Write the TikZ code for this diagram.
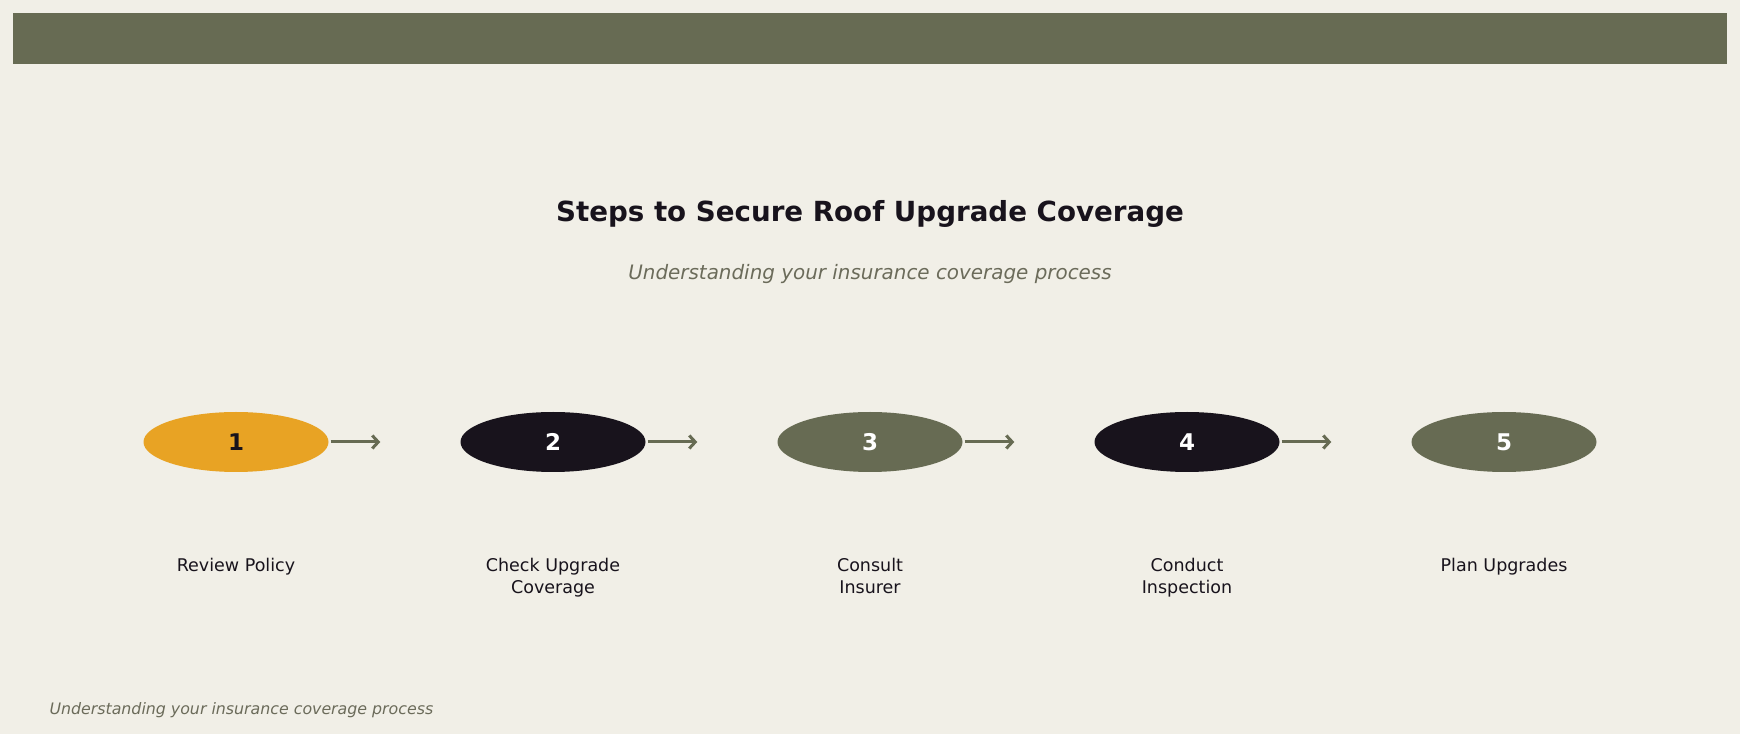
\documentclass[tikz,border=0pt]{standalone}
\usepackage{fontspec}
\setmainfont{DejaVu Sans}
\usetikzlibrary{shapes.geometric,arrows.meta}

\definecolor{paper}{HTML}{F1EFE7}
\definecolor{olive}{HTML}{676B53}
\definecolor{amber}{HTML}{E8A324}
\definecolor{ink}{HTML}{18131C}
\definecolor{mute}{HTML}{6B6B5A}

\tikzset{
  stepdot/.style={ellipse, minimum width=185pt, minimum height=60pt, inner sep=0pt,
    font=\fontsize{23}{25}\selectfont\bfseries, text=white},
  steplabel/.style={align=center, inner sep=0pt, text=ink,
    font=\fontsize{17.5}{22.5}\selectfont},
  flow/.style={->, olive, line width=3pt, shorten <=2pt, shorten >=80pt}
}

\begin{document}
\begin{tikzpicture}[x=1pt, y=1pt, >={Straight Barb[length=6pt,width=13pt]}, node distance=317pt]
    \useasboundingbox[fill=paper] (0,0) rectangle (1740,734);
    \fill[olive] (13,670) rectangle (1727,721);

    \node[text=ink, font=\fontsize{27.7}{32}\selectfont\bfseries] (title) at (870,520) {Steps to Secure Roof Upgrade Coverage};
    \node[text=mute, font=\fontsize{19.9}{24}\selectfont\itshape] (sub) at (870,460) {Understanding your insurance coverage process};

    \node[stepdot, fill=amber, text=ink] (s1) at (236,292) {1};
    \node[stepdot, fill=ink, right of=s1] (s2) {2};
    \node[stepdot, fill=olive, right of=s2] (s3) {3};
    \node[stepdot, fill=ink, right of=s3] (s4) {4};
    \node[stepdot, fill=olive, right of=s4] (s5) {5};

    \draw[flow] (s1.east) -- (s2.west);
    \draw[flow] (s2.east) -- (s3.west);
    \draw[flow] (s3.east) -- (s4.west);
    \draw[flow] (s4.east) -- (s5.west);

    \node[steplabel, below of=s1, node distance=116pt, anchor=north] (l1) {Review Policy};
    \node[steplabel, below of=s2, node distance=116pt, anchor=north] (l2) {Check Upgrade\\Coverage};
    \node[steplabel, below of=s3, node distance=116pt, anchor=north] (l3) {Consult\\Insurer};
    \node[steplabel, below of=s4, node distance=116pt, anchor=north] (l4) {Conduct\\Inspection};
    \node[steplabel, below of=s5, node distance=116pt, anchor=north] (l5) {Plan Upgrades};

    \node[text=mute, anchor=west, font=\fontsize{15.8}{19}\selectfont\itshape] (foot) at (46,24) {Understanding your insurance coverage process};
\end{tikzpicture}
\end{document}
